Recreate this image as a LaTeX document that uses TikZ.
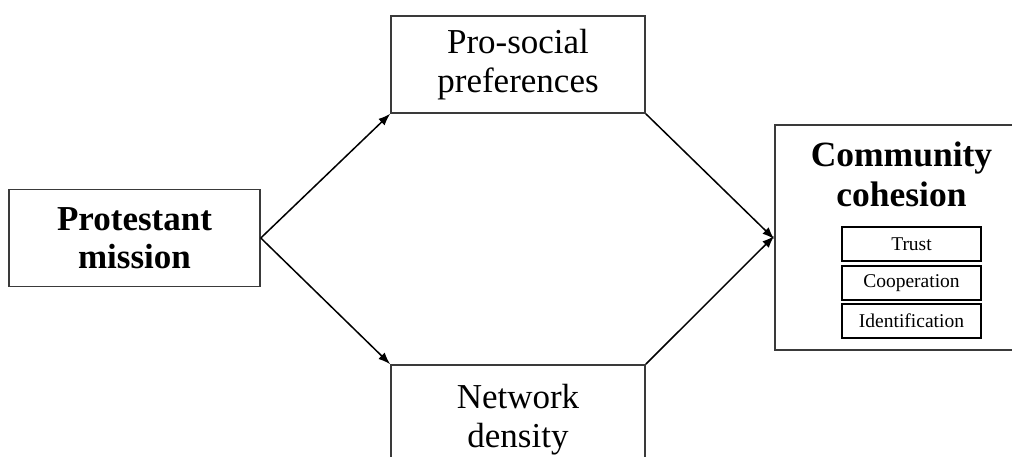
\documentclass[tikz,border=0pt]{standalone}
\usepackage{fontspec}
\setmainfont{Liberation Serif}
\usetikzlibrary{arrows.meta}
\definecolor{boxgray}{HTML}{3A3A3A}
\tikzset{
  mainbox/.style={draw=boxgray, line width=1.6pt, rectangle, inner sep=0pt, align=center},
  bigbold/.style={font=\fontsize{35}{38}\selectfont\bfseries},
  bigreg/.style={font=\fontsize{35}{39}\selectfont},
  titlebold/.style={font=\fontsize{35.5}{40}\selectfont\bfseries, align=center, inner sep=0pt},
  subbox/.style={draw=black, line width=1.2pt, rectangle, inner sep=0pt, minimum width=139pt, minimum height=34pt, font=\fontsize{19.5}{22}\selectfont},
  arr/.style={-{Latex[length=12pt,width=9pt]}, line width=1.5pt, black}
}
\begin{document}
\begin{tikzpicture}[x=1pt,y=-1pt]
\useasboundingbox (0,0) rectangle (1012,457);
\clip (0,0) rectangle (1012,457);
\fill[white] (0,0) rectangle (1012,457);
\node[mainbox, bigbold, minimum width=251pt, minimum height=97pt] (prot) at (134.5,238) {Protestant\\mission};
\node[mainbox, bigreg, minimum width=254pt, minimum height=97pt] (pro) at (518,64.5) {Pro-social\\preferences};
\node[mainbox, bigreg, minimum width=254pt, minimum height=110pt] (net) at (518,420) {Network\\density};
\node[mainbox, minimum width=245pt, minimum height=225pt] (comm) at (897.5,237.5) {};
\node[titlebold] (title) at (901.5,174) {Community\\cohesion};
\node[subbox] (trust) at (911.5,244) {Trust};
\node[subbox] (coop) at (911.5,283) {Cooperation};
\node[subbox] (ident) at (911.5,321) {Identification};
\draw[arr] (prot.east) -- (pro.south west);
\draw[arr] (prot.east) -- (net.north west);
\draw[arr] (pro.south east) -- ([yshift=-1.5pt]comm.west);
\draw[arr] (net.north east) -- ([yshift=1.5pt]comm.west);
\end{tikzpicture}
\end{document}
